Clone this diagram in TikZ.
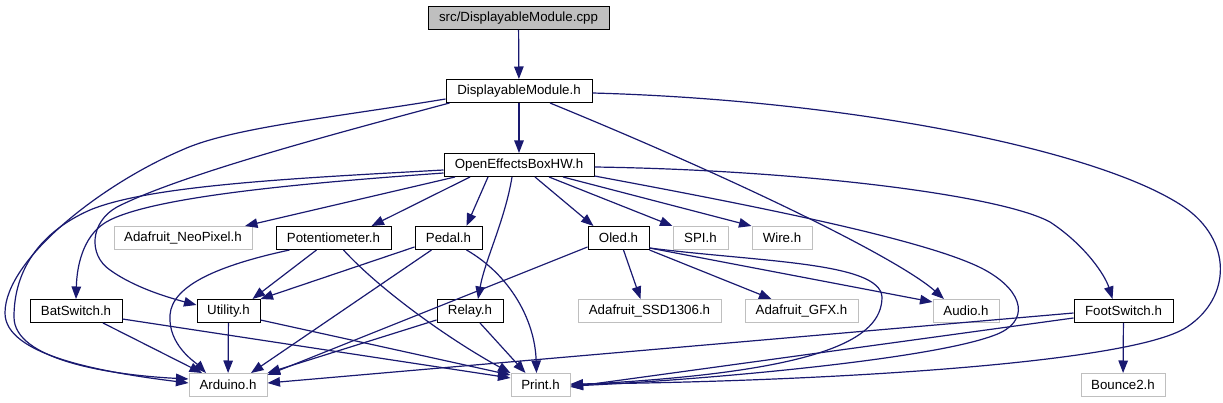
\documentclass[tikz,border=0pt]{standalone}
\usepackage{fontspec}
\setmainfont{Liberation Sans}
\usepackage{xcolor}
\usetikzlibrary{arrows.meta}
\definecolor{edgeblue}{HTML}{191970}
\definecolor{extgray}{HTML}{BFBFBF}

\begin{document}
\begin{tikzpicture}[x=1pt, y=-1pt,
      hdr/.style={draw=black, fill=white, line width=1pt,
                  minimum height=23pt, inner sep=0pt,
                  font=\fontsize{13.3}{15}\selectfont},
      ext/.style={hdr, draw=extgray},
      src/.style={hdr, fill=extgray},
      dep/.style={-{Triangle[length=12.5pt,width=9.5pt]}, line width=1.2pt, color=edgeblue}
    ]
    \useasboundingbox (0,0) rectangle (1223,403);

    % Top files
    \node[src, minimum width=181pt] (cpp)  at (518.5,18) {src/DisplayableModule.cpp};
    \node[hdr, minimum width=146pt] (dm)   at (519,91)   {DisplayableModule.h};
    \node[hdr, minimum width=150pt] (oeb)  at (519,165)  {OpenEffectsBoxHW.h};

    % Third row
    \node[ext, minimum width=138pt] (neo)   at (183,238)   {Adafruit\_NeoPixel.h};
    \node[hdr, minimum width=115pt] (pot)   at (333.5,238) {Potentiometer.h};
    \node[hdr, minimum width=67pt]  (pedal) at (448.5,238) {Pedal.h};
    \node[hdr, minimum width=61pt]  (oled)  at (618.5,238) {Oled.h};
    \node[ext, minimum width=55pt]  (spi)   at (700.5,238) {SPI.h};
    \node[ext, minimum width=60pt]  (wire)  at (782,238)   {Wire.h};

    % Fourth row
    \node[hdr, minimum width=92pt]  (bat)   at (76,311)     {BatSwitch.h};
    \node[hdr, minimum width=63pt]  (util)  at (228.5,311)  {Utility.h};
    \node[hdr, minimum width=66pt]  (relay) at (470,311)    {Relay.h};
    \node[ext, minimum width=143pt] (ssd)   at (649.5,311)  {Adafruit\_SSD1306.h};
    \node[ext, minimum width=113pt] (gfx)   at (801.5,311)  {Adafruit\_GFX.h};
    \node[ext, minimum width=66pt]  (audio) at (966,311)    {Audio.h};
    \node[hdr, minimum width=99pt]  (foot)  at (1123.5,311) {FootSwitch.h};

    % Bottom row
    \node[ext, minimum width=78pt] (ard)    at (228,385)    {Arduino.h};
    \node[ext, minimum width=59pt] (print)  at (540.5,385)  {Print.h};
    \node[ext, minimum width=84pt] (bounce) at (1123,385)   {Bounce2.h};

    % DisplayableModule
    \draw[dep] (cpp) -- (dm);
    \draw[dep] (dm) -- (oeb);
    \draw[dep] ([yshift=4pt]dm.south west) .. controls (330,118) and (230,128) .. (182,150)
               .. controls (100,185) and (5,260) .. (5,313)
               .. controls (5,355) and (100,372) .. ([yshift=2pt]ard.west);
    \draw[dep] ([xshift=4pt]dm.south west) .. controls (330,135) and (180,175) .. (117,207)
               .. controls (90,222) and (88,255) .. (110,270)
               .. controls (135,288) and (170,298) .. ([yshift=-6pt]util.north west);
    \draw[dep] ([xshift=31pt]dm.south) .. controls (750,185) and (900,260) .. ([xshift=-22pt]audio.north);
    \draw[dep] ([yshift=-2pt]dm.east) .. controls (850,100) and (1100,150) .. (1184,207)
               .. controls (1232,240) and (1232,297) .. (1187,327)
               .. controls (1130,365) and (800,382) .. ([yshift=1pt]print.east);

    % OpenEffectsBoxHW
    \draw[dep] ([yshift=-5pt]oeb.west) .. controls (300,178) and (150,185) .. (90,210)
               .. controls (40,232) and (14,270) .. (14,317)
               .. controls (14,360) and (110,375) .. ([yshift=6pt]ard.west);
    \draw[dep] ([yshift=-8pt]oeb.west) .. controls (320,182) and (160,195) .. (110,220)
               .. controls (85,232) and (77,262) .. (bat.north);
    \draw[dep] ([xshift=-64pt]oeb.south) -- ([xshift=62pt]neo.north);
    \draw[dep] ([xshift=-49pt]oeb.south) -- ([xshift=38pt]pot.north);
    \draw[dep] ([xshift=-31pt]oeb.south) -- ([xshift=18pt]pedal.north);
    \draw[dep] ([xshift=-7pt]oeb.south) .. controls (505,220) and (485,260) .. ([xshift=8pt]relay.north);
    \draw[dep] ([xshift=16pt]oeb.south) -- ([xshift=-25pt]oled.north);
    \draw[dep] ([xshift=30pt]oeb.south) -- (spi.north west);
    \draw[dep] ([xshift=44pt]oeb.south) -- (wire.north west);
    \draw[dep] ([yshift=-2pt]oeb.east) .. controls (800,170) and (1000,195) .. (1050,222)
               .. controls (1085,245) and (1105,275) .. ([xshift=-11pt]foot.north);
    \draw[dep] ([yshift=-11pt]oeb.east) .. controls (750,205) and (930,240) .. (985,270)
               .. controls (1025,292) and (1030,322) .. (995,335)
               .. controls (930,360) and (700,380) .. ([yshift=-1pt]print.east);

    % Potentiometer and Pedal
    \draw[dep] ([xshift=-17pt]pot.south) -- ([xshift=24pt]util.north);
    \draw[dep] ([xshift=-44pt]pot.south) .. controls (220,265) and (172,285) .. (170,315)
               .. controls (168,345) and (195,362) .. ([xshift=-22pt]ard.north);
    \draw[dep] ([xshift=10pt]pot.south) .. controls (380,290) and (450,340) .. (print.north west);
    \draw[dep] ([yshift=-9pt]pedal.west) -- (util.north east);
    \draw[dep] ([xshift=-17pt]pedal.south) -- ([xshift=23pt]ard.north);
    \draw[dep] ([xshift=18pt]pedal.south) .. controls (510,275) and (535,320) .. ([xshift=-4pt]print.north);

    % Oled
    \draw[dep] ([yshift=-9pt]oled.west) -- ([yshift=-2pt]ard.north east);
    \draw[dep] ([xshift=5pt]oled.south) -- ([xshift=-9pt]ssd.north);
    \draw[dep] (oled.south east) -- ([xshift=-30pt]gfx.north);
    \draw[dep] ([yshift=-10pt]oled.east) -- ([yshift=-3pt]audio.north west);
    \draw[dep] ([yshift=-10pt]oled.east) .. controls (760,262) and (880,262) .. (882,297)
               .. controls (882,340) and (820,372) .. (print.east);

    % Fourth row
    \draw[dep] ([xshift=27pt]bat.south) -- ([xshift=-26pt]ard.north);
    \draw[dep] ([yshift=-8pt]bat.east) -- ([yshift=7pt]print.west);
    \draw[dep] (util) -- (ard);
    \draw[dep] ([yshift=-9pt]util.east) -- ([yshift=10pt]print.west);
    \draw[dep] ([yshift=-9pt]relay.west) -- (ard.north east);
    \draw[dep] ([xshift=10pt]relay.south) -- ([xshift=-15pt]print.north);
    \draw[dep] ([yshift=-2pt]foot.west) -- ([yshift=2pt]ard.east);
    \draw[dep] ([yshift=-7pt]foot.west) -- ([yshift=-2pt]print.east);
    \draw[dep] (foot) -- (bounce);

  \end{tikzpicture}
\end{document}
